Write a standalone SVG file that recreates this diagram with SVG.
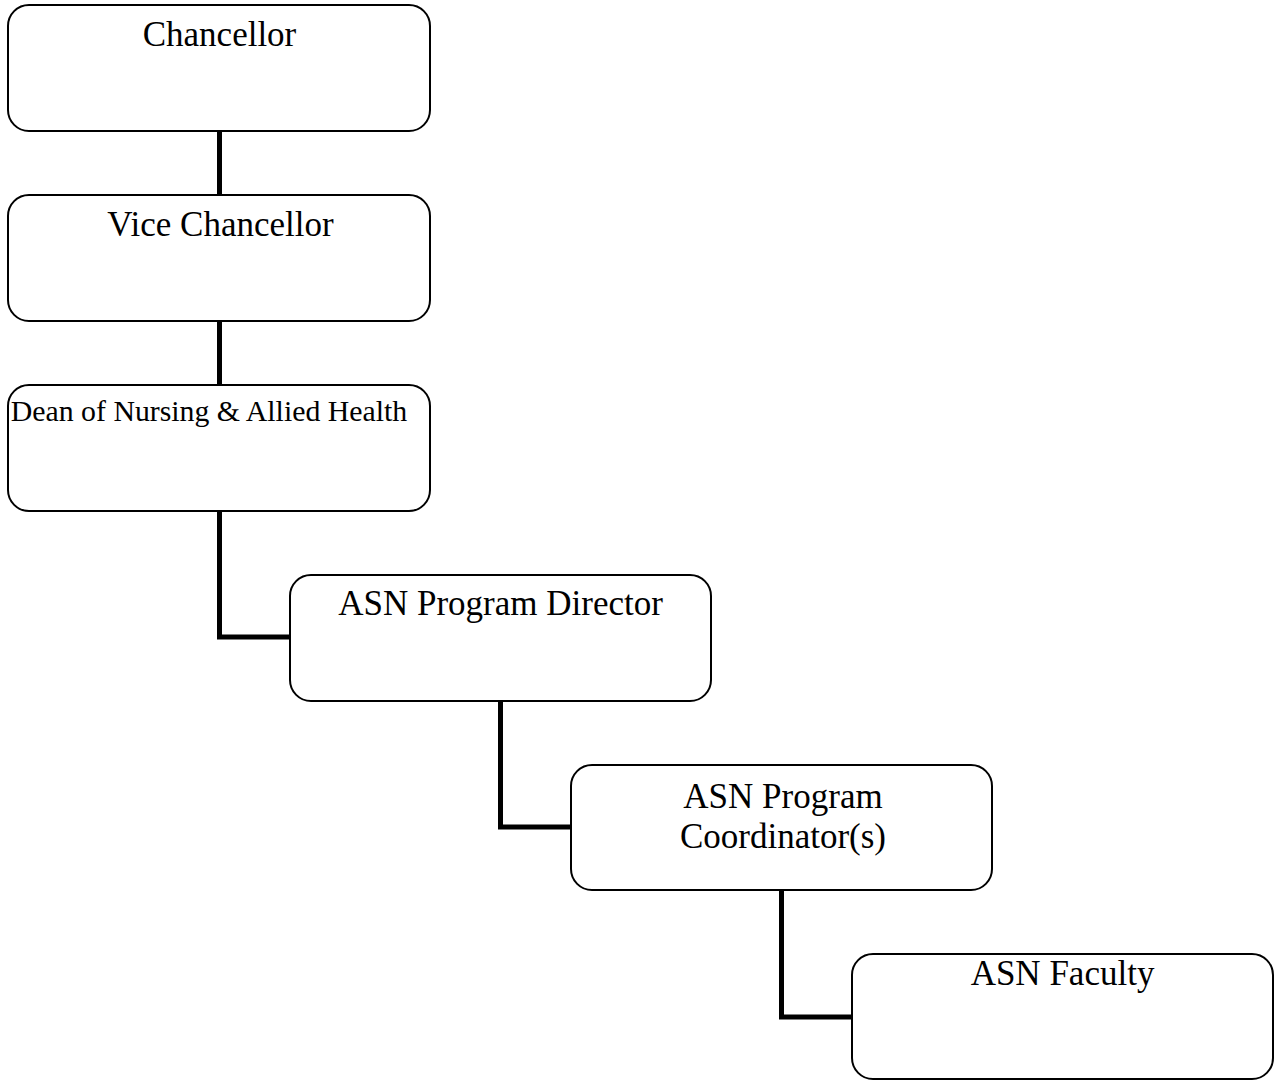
<svg xmlns="http://www.w3.org/2000/svg" width="1276" height="1080" viewBox="0 0 1276 1080">
<style>
.box{fill:#fff;stroke:#000;stroke-width:2}
.conn{fill:none;stroke:#000;stroke-width:5;stroke-linejoin:miter}
text{font-family:"Liberation Serif","Times New Roman",serif;fill:#000;text-anchor:middle;font-size:35px}
</style>
<rect width="1276" height="1080" fill="#fff"/>
<g id="connectors">
<path class="conn" d="M219.5 131V195"/>
<path class="conn" d="M219.5 321V385"/>
<path class="conn" d="M219.5 511V637H290"/>
<path class="conn" d="M500.5 701V827H571"/>
<path class="conn" d="M781.5 890V1017H852"/>
</g>
<g id="chancellor">
<rect class="box" x="8" y="5" width="422" height="126" rx="21"/>
<text x="219.5" y="46">Chancellor</text>
</g>
<g id="vice-chancellor">
<rect class="box" x="8" y="195" width="422" height="126" rx="21"/>
<text x="220.5" y="236">Vice Chancellor</text>
</g>
<g id="dean">
<rect class="box" x="8" y="385" width="422" height="126" rx="21"/>
<text x="209" y="421" style="font-size:29.8px">Dean of Nursing &amp; Allied Health</text>
</g>
<g id="program-director">
<rect class="box" x="290" y="575" width="421" height="126" rx="21"/>
<text x="500.5" y="615">ASN Program Director</text>
</g>
<g id="program-coordinator">
<rect class="box" x="571" y="765" width="421" height="125" rx="21"/>
<text x="783" y="808">ASN Program</text>
<text x="783" y="848">Coordinator(s)</text>
</g>
<g id="faculty">
<rect class="box" x="852" y="954" width="421" height="125" rx="21"/>
<text x="1062.5" y="985">ASN Faculty</text>
</g>
</svg>
